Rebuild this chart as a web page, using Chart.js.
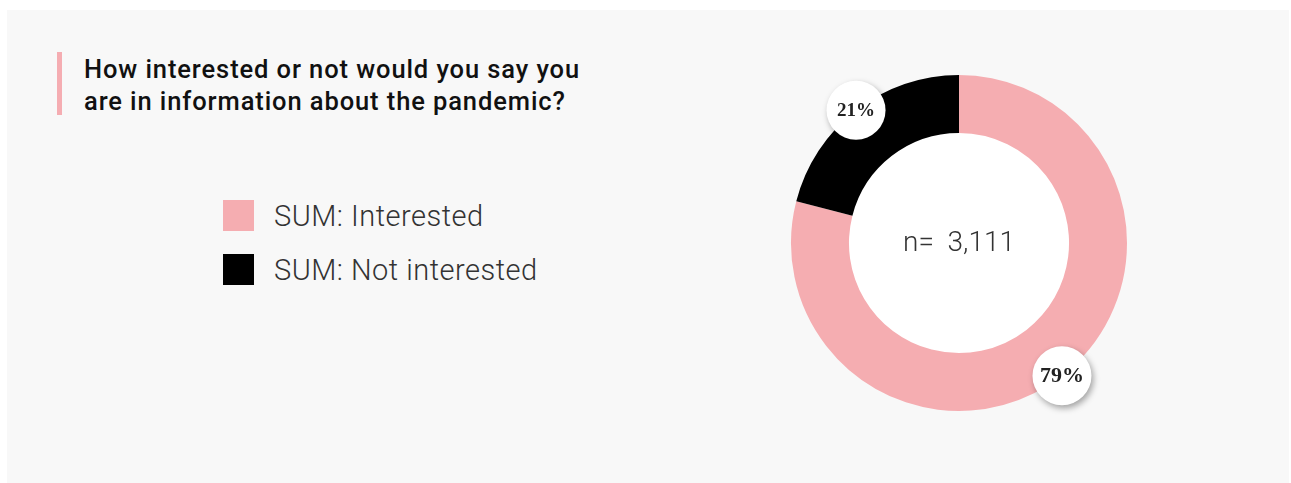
<!DOCTYPE html>
<html>
<head>
<meta charset="utf-8">
<script src="https://cdn.jsdelivr.net/npm/chart.js@4/dist/chart.umd.min.js"></script>
<style>
  body { margin: 0; background: #fff; width: 1291px; height: 483px; overflow: hidden; font-family: Roboto, sans-serif; }
  #panel { position: absolute; left: 7px; top: 10px; width: 1282px; height: 473px; background: #f8f8f8; }
  #bar { position: absolute; left: 50px; top: 42px; width: 5px; height: 63px; background: #f5adb2; }
  #title { position: absolute; left: 77px; top: 43px; margin: 0; font-size: 25.5px; font-weight: 500; line-height: 32px; color: #111; letter-spacing: 0.9px; white-space: nowrap; }
  #legend { position: absolute; left: 216px; top: 190px; }
  .row { display: flex; align-items: center; height: 31px; margin-bottom: 23px; }
  .box { width: 31px; height: 31px; margin-right: 20px; }
  .lbl { font-size: 29px; font-weight: 300; color: #333; letter-spacing: 0.5px; }
  #wrap { position: absolute; left: 777px; top: 58px; width: 350px; height: 350px; }
</style>
</head>
<body>
<div id="panel">
  <div id="bar"></div>
  <h2 id="title">How interested or not would you say you<br>are in information about the pandemic?</h2>
  <div id="legend"></div>
  <div id="wrap"><canvas id="donut" width="350" height="350"></canvas></div>
</div>
<script>
const categories = ["SUM: Interested", "SUM: Not interested"];
const values = [79, 21];
const colors = ["#f5adb1", "#000000"];
const sampleLabel = "n= 3,111";

// legend in html
const legendDiv = document.getElementById("legend");
categories.forEach((c, i) => {
    legendDiv.innerHTML += `
      <div class="row"><div class="box" style="background:${colors[i]}"></div><span class="lbl">${c}</span></div>`;
});

// white circles with the percentage on the outer edge
const bubbles = {
    id: "bubbles",
    afterDatasetsDraw(chart) {
        const ctx = chart.ctx;
        const meta = chart.getDatasetMeta(0);
        meta.data.forEach((arc, i) => {
            const mid = (arc.startAngle + arc.endAngle) / 2;
            const x = arc.x + Math.cos(mid) * arc.outerRadius;
            const y = arc.y + Math.sin(mid) * arc.outerRadius;
            ctx.save();
            ctx.shadowColor = "rgba(0,0,0,0.35)";
            ctx.shadowBlur = 6;
            ctx.shadowOffsetX = 2;
            ctx.shadowOffsetY = 3;
            ctx.fillStyle = "#fff";
            ctx.beginPath();
            ctx.arc(x, y, 29.5, 0, Math.PI * 2);
            ctx.fill();
            ctx.restore();
            ctx.save();
            ctx.fillStyle = "#222";
            ctx.font = "bold " + (values[i] > 50 ? 22 : 19) + "px 'Liberation Serif', serif";
            ctx.textAlign = "center";
            ctx.textBaseline = "middle";
            ctx.fillText(values[i] + "%", x, y + 1);
            ctx.restore();
        });
    }
};

// center text
const centerText = {
    id: "centerText",
    afterDraw(chart) {
        const ctx = chart.ctx;
        const arc = chart.getDatasetMeta(0).data[0];
        ctx.save();
        ctx.fillStyle = "#333";
        ctx.font = "300 28px Roboto";
        ctx.textAlign = "center";
        ctx.textBaseline = "middle";
        ctx.fillText(sampleLabel.replace(" ", "  "), arc.x, arc.y + 1);
        ctx.restore();
    }
};

// white hole
const hole = {
    id: "hole",
    beforeDatasetsDraw(chart) {
        const ctx = chart.ctx;
        const arc = chart.getDatasetMeta(0).data[0];
        ctx.save();
        ctx.fillStyle = "#fff";
        ctx.beginPath();
        ctx.arc(arc.x, arc.y, arc.innerRadius + 1, 0, Math.PI * 2);
        ctx.fill();
        ctx.restore();
    }
};

new Chart(document.getElementById("donut"), {
    type: "doughnut",
    data: {
        labels: categories,
        datasets: [{
            data: values,
            backgroundColor: colors,
            borderWidth: 0
        }]
    },
    options: {
        responsive: false,
        animation: false,
        cutout: "65.5%",
        layout: { padding: 7 },
        plugins: {
            legend: { display: false },
            tooltip: { enabled: false }
        }
    },
    plugins: [hole, bubbles, centerText]
});
</script>
</body>
</html>
